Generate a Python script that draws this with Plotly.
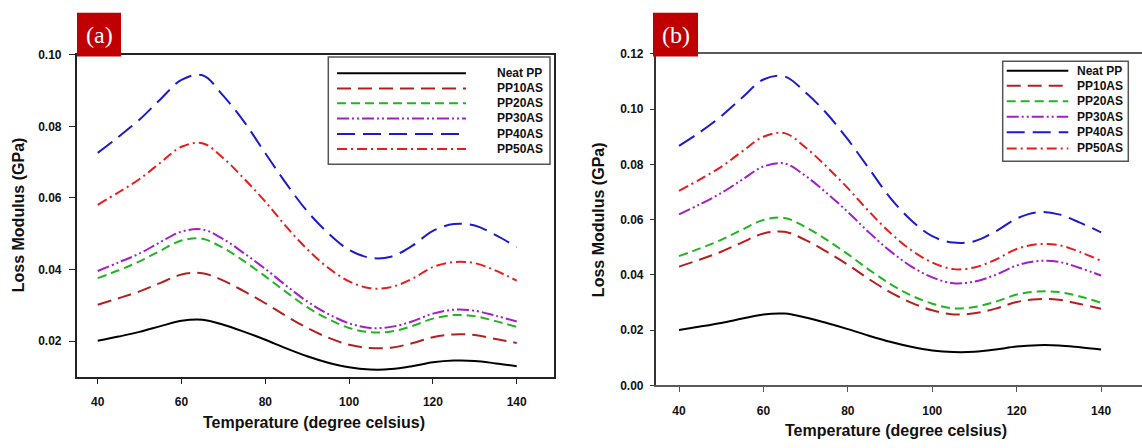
import plotly.graph_objects as go

W, H = 1142, 448

temperature = [40, 45, 50, 55, 60, 65, 70, 75, 80, 85, 90, 95, 100, 105, 110, 115, 120, 125, 130, 135, 140]

neat_pp = [0.0201, 0.0213, 0.0226, 0.0242, 0.0257, 0.0260, 0.0246, 0.0226, 0.0204, 0.0180, 0.0158,
           0.0140, 0.0127, 0.0121, 0.0122, 0.0130, 0.0141, 0.0146, 0.0145, 0.0138, 0.0130]

# panel (a)
a_pp10 = [0.0302, 0.0320, 0.0339, 0.0363, 0.0386, 0.0390, 0.0369, 0.0339, 0.0306, 0.0270, 0.0237,
          0.0210, 0.0190, 0.0181, 0.0182, 0.0194, 0.0211, 0.0219, 0.0217, 0.0206, 0.0195]
a_pp20 = [0.0376, 0.0398, 0.0423, 0.0453, 0.0481, 0.0486, 0.0460, 0.0423, 0.0381, 0.0337, 0.0295,
          0.0262, 0.0237, 0.0225, 0.0227, 0.0242, 0.0263, 0.0273, 0.0270, 0.0256, 0.0240]
a_pp30 = [0.0396, 0.0420, 0.0445, 0.0477, 0.0506, 0.0512, 0.0485, 0.0445, 0.0402, 0.0355, 0.0311,
          0.0276, 0.0250, 0.0237, 0.0240, 0.0255, 0.0277, 0.0288, 0.0285, 0.0271, 0.0255]
a_pp40 = [0.0726, 0.0771, 0.0819, 0.0876, 0.0930, 0.0943, 0.0885, 0.0812, 0.0725, 0.0640, 0.0563,
          0.0502, 0.0455, 0.0433, 0.0436, 0.0466, 0.0508, 0.0527, 0.0523, 0.0496, 0.0463]
a_pp50 = [0.0581, 0.0616, 0.0653, 0.0699, 0.0743, 0.0753, 0.0711, 0.0653, 0.0590, 0.0520, 0.0457,
          0.0405, 0.0367, 0.0348, 0.0351, 0.0374, 0.0407, 0.0421, 0.0418, 0.0397, 0.0369]

# panel (b)
b_pp10 = [0.0430, 0.0456, 0.0484, 0.0518, 0.0550, 0.0556, 0.0526, 0.0484, 0.0437, 0.0385, 0.0338,
          0.0300, 0.0272, 0.0257, 0.0261, 0.0278, 0.0302, 0.0312, 0.0310, 0.0295, 0.0278]
b_pp20 = [0.0468, 0.0496, 0.0527, 0.0564, 0.0599, 0.0606, 0.0573, 0.0527, 0.0475, 0.0419, 0.0368,
          0.0326, 0.0296, 0.0279, 0.0284, 0.0303, 0.0329, 0.0340, 0.0338, 0.0322, 0.0299]
b_pp30 = [0.0619, 0.0656, 0.0696, 0.0745, 0.0792, 0.0803, 0.0758, 0.0696, 0.0628, 0.0554, 0.0487,
          0.0431, 0.0391, 0.0370, 0.0376, 0.0400, 0.0434, 0.0450, 0.0447, 0.0425, 0.0398]
b_pp40 = [0.0867, 0.0917, 0.0974, 0.1042, 0.1107, 0.1118, 0.1060, 0.0984, 0.0890, 0.0785, 0.0680,
          0.0598, 0.0540, 0.0517, 0.0522, 0.0557, 0.0604, 0.0627, 0.0619, 0.0589, 0.0554]
b_pp50 = [0.0704, 0.0746, 0.0791, 0.0847, 0.0900, 0.0913, 0.0861, 0.0791, 0.0714, 0.0630, 0.0553,
          0.0490, 0.0445, 0.0421, 0.0427, 0.0455, 0.0494, 0.0511, 0.0508, 0.0483, 0.0451]

series_names = ["Neat PP", "PP10AS", "PP20AS", "PP30AS", "PP40AS", "PP50AS"]
colors = ["#000000", "#b3201f", "#22b422", "#a41fc4", "#1c1cc8", "#e81c1c"]
dashes = ["solid", "14px,7px", "9px,5px", "12px,3px,2px,3px,2px,3px", "18px,8px", "10px,4px,2px,4px"]

panel_a = [neat_pp, a_pp10, a_pp20, a_pp30, a_pp40, a_pp50]
panel_b = [neat_pp, b_pp10, b_pp20, b_pp30, b_pp40, b_pp50]

a_yticks = [0.02, 0.04, 0.06, 0.08, 0.10]
b_yticks = [0.00, 0.02, 0.04, 0.06, 0.08, 0.10, 0.12]
x_ticks = [40, 60, 80, 100, 120, 140]

FONT = "Liberation Sans, Arial, sans-serif"


def px(x):
    return x / W


def py(y):
    return 1 - y / H


fig = go.Figure()

for name, vals, c, d in zip(series_names, panel_a, colors, dashes):
    fig.add_trace(go.Scatter(x=temperature, y=vals, mode="lines", name=name, showlegend=False,
                             line=dict(color=c, width=2, dash=d, shape="spline", smoothing=1.0),
                             xaxis="x", yaxis="y"))
for name, vals, c, d in zip(series_names, panel_b, colors, dashes):
    fig.add_trace(go.Scatter(x=temperature, y=vals, mode="lines", name=name, showlegend=False,
                             line=dict(color=c, width=2, dash=d, shape="spline", smoothing=1.0),
                             xaxis="x2", yaxis="y2"))

tickfont = dict(family=FONT, size=12, color="#111111", weight="bold")

fig.update_layout(
    width=W, height=H,
    margin=dict(l=0, r=0, t=0, b=0),
    paper_bgcolor="white", plot_bgcolor="white",
    xaxis=dict(domain=[px(76.7), px(554.3)], range=[34.99, 148.97], tickvals=x_ticks,
               ticks="outside", ticklen=5, tickwidth=1.2, tickcolor="#222", ticklabelstandoff=7,
               showline=True, linecolor="#222", linewidth=1.5, mirror=True,
               showgrid=False, zeroline=False, tickfont=tickfont, anchor="y"),
    yaxis=dict(domain=[py(382.3), py(49.3)], range=[0.0099, 0.10], tickvals=a_yticks, tickformat=".2f",
               ticks="outside", ticklen=6, tickwidth=1.2, tickcolor="#222", ticklabelstandoff=5,
               showline=True, linecolor="#222", linewidth=1.5, mirror=True,
               showgrid=False, zeroline=False, tickfont=tickfont, anchor="x"),
    xaxis2=dict(domain=[px(655.7), 1.0], range=[34.48, 149.7], tickvals=x_ticks,
                ticks="outside", ticklen=5, tickwidth=1.2, tickcolor="#555", ticklabelstandoff=8,
                showline=True, linecolor="#5a5a5a", linewidth=1.5, mirror=True,
                showgrid=False, zeroline=False, tickfont=tickfont, anchor="y2"),
    yaxis2=dict(domain=[py(390.7), py(48.3)], range=[0, 0.12], tickvals=b_yticks, tickformat=".2f",
                ticks="outside", ticklen=4, tickwidth=1.2, tickcolor="#333", ticklabelstandoff=4,
                showline=True, linecolor="#333", linewidth=1.5, mirror=False,
                showgrid=False, zeroline=False, tickfont=tickfont, anchor="x2"),
)

shapes = []
annotations = []

# axis titles
title_font = dict(family=FONT, size=16, color="#111111", weight="bold")
annotations.append(dict(text="Temperature (degree celsius)", x=px(314), y=py(429), xref="paper", yref="paper",
                        showarrow=False, font=title_font, xanchor="center", yanchor="middle"))
annotations.append(dict(text="Temperature (degree celsius)", x=px(896), y=py(437), xref="paper", yref="paper",
                        showarrow=False, font=title_font, xanchor="center", yanchor="middle"))
annotations.append(dict(text="Loss Modulus (GPa)", x=px(18), y=py(215), xref="paper", yref="paper",
                        showarrow=False, font=title_font, textangle=-90, xanchor="center", yanchor="middle"))
annotations.append(dict(text="Loss Modulus (GPa)", x=px(598), y=py(220), xref="paper", yref="paper",
                        showarrow=False, font=title_font, textangle=-90, xanchor="center", yanchor="middle"))

# panel labels
for lab, x0, x1 in [("(a)", 77, 121), ("(b)", 653, 698)]:
    shapes.append(dict(type="rect", xref="paper", yref="paper", x0=px(x0), x1=px(x1), y0=py(51), y1=py(6),
                       fillcolor="#c00000", line=dict(width=0), layer="above"))
    annotations.append(dict(text=lab, x=px((x0 + x1) / 2), y=py(29), xref="paper", yref="paper",
                            showarrow=False, xanchor="center", yanchor="middle",
                            font=dict(family="Liberation Serif, Times New Roman, serif", size=24, color="white")))

# legends
legend_font = dict(family=FONT, size=12, color="#111111", weight="bold")


def add_legend(box, sx0, sx1, tx, rows):
    shapes.append(dict(type="rect", xref="paper", yref="paper", x0=px(box[0]), x1=px(box[1]),
                       y0=py(box[3]), y1=py(box[2]), fillcolor="white",
                       line=dict(color="#555555", width=1.5), layer="above"))
    for name, c, d, ry in zip(series_names, colors, dashes, rows):
        shapes.append(dict(type="line", xref="paper", yref="paper", x0=px(sx0), x1=px(sx1),
                           y0=py(ry), y1=py(ry), line=dict(color=c, width=2, dash=d), layer="above"))
        annotations.append(dict(text=name, x=px(tx), y=py(ry), xref="paper", yref="paper",
                                showarrow=False, xanchor="left", yanchor="middle", font=legend_font))


add_legend((328.3, 550, 51.7, 162.3), 337, 466, 495, [68.3, 84, 99.3, 115, 131, 146.7])
add_legend((1002.7, 1128.3, 56, 159.3), 1006.7, 1068.3, 1075, [65.7, 81.3, 97.3, 113.3, 129.3, 146])

fig.update_layout(shapes=shapes, annotations=annotations)

fig.write_html("out.html", config={"displayModeBar": False},
               post_script="document.body.style.margin='0px';document.body.style.overflow='hidden';")
